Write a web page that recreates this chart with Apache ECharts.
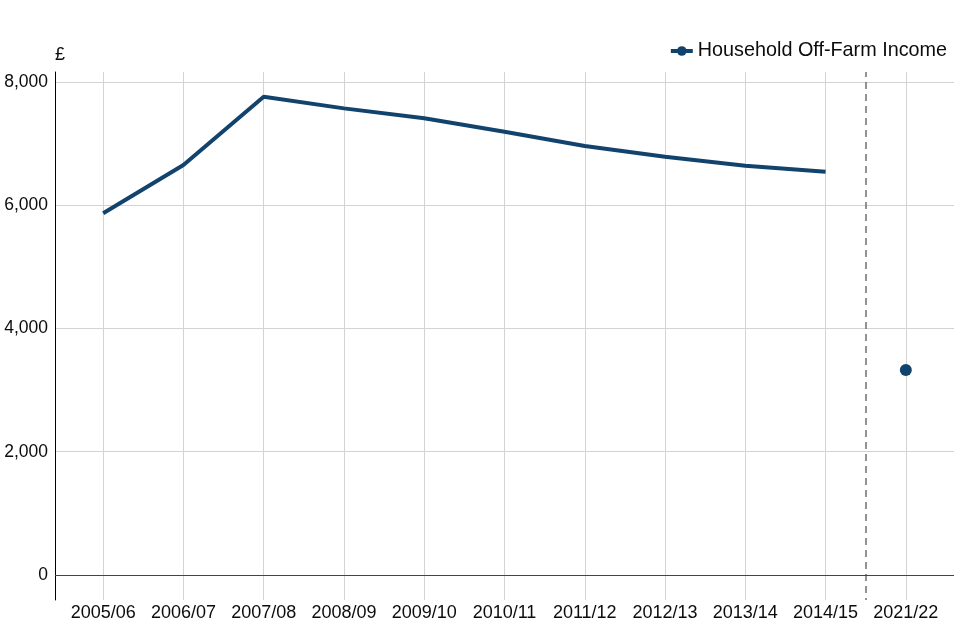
<!DOCTYPE html>
<html>
<head>
<meta charset="utf-8">
<script src="https://cdn.jsdelivr.net/npm/echarts@6/dist/echarts.min.js"></script>
<style>html,body{margin:0;padding:0;background:#fff}#c{width:960px;height:640px}</style>
</head>
<body>
<div id="c"></div>
<script>
const categories = ['2005/06','2006/07','2007/08','2008/09','2009/10','2010/11','2011/12','2012/13','2013/14','2014/15','2021/22'];
const seriesName = 'Household Off-Farm Income';
const lineValues = [5870, 6650, 7760, 7570, 7410, 7190, 6960, 6785, 6640, 6540];
const pointValues = [null, null, null, null, null, null, null, null, null, null, 3325];
const yTicks = [0, 2000, 4000, 6000, 8000];
const breakPosition = 9.5;

const FONT = 'Liberation Sans, Arial, sans-serif';
const catIdx = categories.map((c, i) => i);
const lineData = lineValues.map((v, i) => [i, v]);
const pointData = pointValues.map((v, i) => v == null ? null : [i, v]).filter(d => d);

const chart = echarts.init(document.getElementById('c'), null, {renderer: 'canvas'});
chart.setOption({
  animation: false,
  textStyle: {fontFamily: FONT},
  grid: {left: 55, right: 6, top: 72, bottom: 40, containLabel: false},
  legend: {
    data: [seriesName],
    right: 8, top: 36,
    itemWidth: 22, itemHeight: 12,
    itemGap: 8,
    lineStyle: {width: 4},
    textStyle: {fontSize: 19.8, color: '#0b0c0c', fontFamily: FONT}
  },
  xAxis: {
    type: 'value',
    min: -0.6, max: 10.6,
    axisLine: {show: false, onZero: false},
    axisTick: {show: false, customValues: catIdx},
    axisLabel: {
      customValues: catIdx,
      formatter: v => categories[Math.round(v)],
      fontSize: 18, color: '#0b0c0c', margin: 4, fontFamily: FONT
    },
    splitLine: {show: true, lineStyle: {color: '#d3d3d3', width: 1}}
  },
  yAxis: {
    type: 'value',
    min: -405, max: 8160,
    name: '£',
    nameLocation: 'end',
    nameGap: 8,
    nameTextStyle: {fontSize: 18, color: '#0b0c0c', align: 'left', fontFamily: FONT},
    axisLine: {show: true, onZero: false, lineStyle: {color: '#000', width: 1}},
    axisTick: {show: false, customValues: yTicks},
    axisLabel: {
      customValues: yTicks,
      formatter: v => v.toLocaleString('en-GB'),
      fontSize: 17.5, color: '#0b0c0c', margin: 7, fontFamily: FONT
    },
    splitLine: {show: true, lineStyle: {color: '#d3d3d3', width: 1}}
  },
  series: [
    {
      name: seriesName,
      type: 'line',
      data: lineData,
      symbol: 'circle',
      showSymbol: false,
      symbolSize: 12,
      itemStyle: {color: '#12436D'},
      lineStyle: {color: '#12436D', width: 4},
      z: 5,
      markLine: {
        silent: true,
        symbol: 'none',
        label: {show: false},
        data: [
          {xAxis: breakPosition, lineStyle: {color: '#6f6f6f', type: [7, 5], dashOffset: 5, width: 1.5}},
          {yAxis: 0, lineStyle: {color: '#444', type: 'solid', width: 1.2}}
        ]
      }
    },
    {
      name: seriesName,
      type: 'line',
      data: pointData,
      symbol: 'circle',
      symbolSize: 12,
      showSymbol: true,
      itemStyle: {color: '#12436D'},
      lineStyle: {color: '#12436D', width: 4},
      z: 5
    }
  ]
});
</script>
</body>
</html>
